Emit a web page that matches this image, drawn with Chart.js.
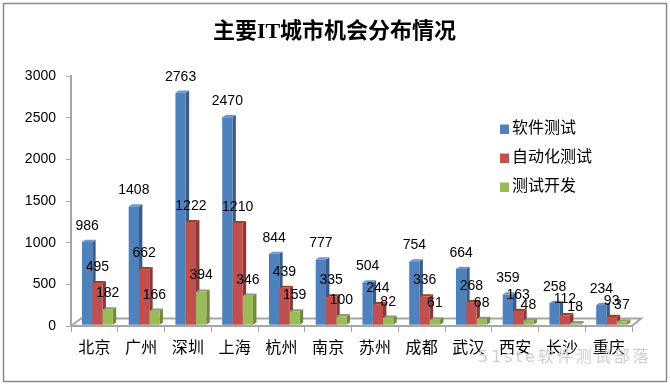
<!DOCTYPE html>
<html><head><meta charset="utf-8">
<style>html,body{margin:0;padding:0;background:#fff}#w{width:670px;height:385px;position:relative}</style>
<script src="https://cdn.jsdelivr.net/npm/chart.js@4"></script>
</head><body><div id="w"><canvas id="c" width="670" height="385"></canvas></div>
<script>
const cities = ['北京','广州','深圳','上海','杭州','南京','苏州','成都','武汉','西安','长沙','重庆'];
const softwareTest = [986,1408,2763,2470,844,777,504,754,664,359,258,234];
const autoTest = [495,662,1222,1210,439,335,244,336,268,163,112,93];
const testDev = [182,166,394,346,159,100,82,61,68,48,18,37];
const seriesNames = ['软件测试','自动化测试','测试开发'];
const chartTitle = '主要IT城市机会分布情况';
const watermark = '51ste软件测试部落';

const faceColors = ['#4F81BD','#C0504D','#9BBB59'];
const sideColors = ['#385D8A','#8C3836','#71893F'];
const topColors  = ['#6E97CC','#A0401F','#8E9A78'];
const CJK = '"Noto Sans CJK SC"';
const LAT = '"Liberation Sans",' + CJK;
const DX = 3, DEPTH_X = 3.4, DEPTH_Y = 2.2;

function swatch(color){
  const s = document.createElement('canvas'); s.width = 14; s.height = 14;
  const g = s.getContext('2d'); g.fillStyle = color; g.fillRect(5,5,9,9);
  return s;
}

const frame = {
  id:'frame',
  beforeDraw(ch){
    const c = ch.ctx; c.save();
    c.fillStyle='#fff'; c.fillRect(0,0,ch.width,ch.height);
    c.strokeStyle='#8A8A8A'; c.lineWidth=1.5;
    c.strokeRect(3.5,3.5,663,378);
    const a = ch.chartArea, b = ch.scales.y.getPixelForValue(0);
    c.strokeStyle='#A6A6A6'; c.lineWidth=2;
    c.beginPath(); c.moveTo(a.left,b); c.lineTo(a.left+10,b-7.5); c.lineTo(a.right+9,b-7.5); c.lineTo(a.right,b); c.stroke();
    c.restore();
  }
};
const depth = {
  id:'depth',
  beforeDatasetsDraw(ch){
    const c = ch.ctx; c.save(); c.translate(DX,0);
    ch.data.datasets.forEach((d,i)=>{
      ch.getDatasetMeta(i).data.forEach(el=>{
        const p = el.getProps(['x','y','base','width'],true);
        const r = p.x+p.width/2, l = p.x-p.width/2;
        c.fillStyle = sideColors[i];
        c.beginPath(); c.moveTo(r,p.y); c.lineTo(r+DEPTH_X,p.y-DEPTH_Y); c.lineTo(r+DEPTH_X,p.base-DEPTH_Y); c.lineTo(r,p.base); c.closePath(); c.fill();
        c.fillStyle = topColors[i];
        c.beginPath(); c.moveTo(l,p.y); c.lineTo(l+DEPTH_X,p.y-DEPTH_Y); c.lineTo(r+DEPTH_X,p.y-DEPTH_Y); c.lineTo(r,p.y); c.closePath(); c.fill();
      });
    });
  },
  afterDatasetsDraw(ch){
    const c = ch.ctx; c.restore();
    c.save();
    c.fillStyle='#000'; c.font='14px '+LAT; c.textAlign='center'; c.textBaseline='middle';
    ch.data.datasets.forEach((d,i)=>{
      ch.getDatasetMeta(i).data.forEach((el,j)=>{
        c.fillText(String(d.data[j]), el.x+DX, el.y-16);
      });
    });
    c.font='16px "DejaVu Sans",'+CJK; c.fillStyle='#CFCFC8'; c.textAlign='left';
    c.letterSpacing='3px';
    c.fillText(watermark, 478, 358);
    c.restore();
  }
};
const placeBoxes = {
  id:'placeBoxes',
  afterLayout(ch){
    const l = ch.legend; l.left = 487; l.top = 105.5; l.right = 670; l.bottom = 260;
    ch.titleBlock.left = 0; ch.titleBlock.right = 669;
  }
};

new Chart(document.getElementById('c'),{
  type:'bar',
  data:{labels:cities,datasets:[
    {label:seriesNames[0],data:softwareTest,backgroundColor:faceColors[0],yAxisID:'yBars'},
    {label:seriesNames[1],data:autoTest,backgroundColor:faceColors[1],yAxisID:'yBars'},
    {label:seriesNames[2],data:testDev,backgroundColor:faceColors[2],yAxisID:'yBars'}
  ]},
  plugins:[frame,depth,placeBoxes],
  options:{
    responsive:false,animation:false,
    layout:{padding:{left:0,right:38,top:0,bottom:29}},
    datasets:{bar:{categoryPercentage:0.66,barPercentage:1}},
    plugins:{
      tooltip:{enabled:false},
      title:{display:true,text:chartTitle,color:'#000',font:{family:'"Liberation Serif",'+CJK,size:22,weight:'bold'},padding:{top:19,bottom:30.6}},
      legend:{position:'chartArea',align:'start',labels:{
        color:'#000',font:{family:CJK,size:16},usePointStyle:true,pointStyleWidth:4,padding:13,
        generateLabels(ch){
          return Chart.defaults.plugins.legend.labels.generateLabels(ch).map((it,i)=>({...it,pointStyle:swatch(faceColors[i]),fontColor:'#000'}));
        }
      }}
    },
    scales:{
      x:{
        grid:{display:true,drawOnChartArea:false,drawTicks:true,tickLength:6,color:'#A6A6A6',offset:true},
        border:{color:'#A6A6A6',width:2},
        ticks:{color:'#000',font:{family:CJK,size:16},padding:5,maxRotation:0,autoSkip:false},
        afterFit(s){s.height=30;}
      },
      y:{
        min:0,max:3000,
        grid:{display:true,drawOnChartArea:false,tickLength:5,color:'#A6A6A6'},
        border:{color:'#A6A6A6',width:2},
        ticks:{color:'#000',font:{family:LAT,size:14},padding:10,stepSize:500,callback:v=>String(v)},
        afterFit(s){s.width=71;}
      },
      yBars:{display:false,min:-15.5,max:2962}
    }
  }
});
</script></body></html>
